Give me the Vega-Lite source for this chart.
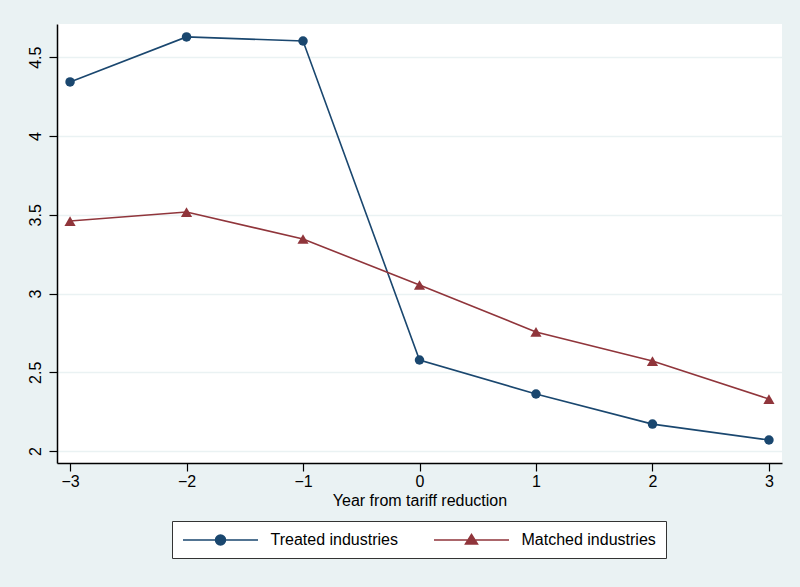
{
  "$schema": "https://vega.github.io/schema/vega-lite/v6.json",
  "width": 725,
  "height": 439,
  "autosize": {"type": "none"},
  "padding": {"left": 57, "top": 24, "right": 18, "bottom": 124},
  "background": "#eaf2f3",
  "config": {
    "view": {"fill": "white", "stroke": null},
    "font": "Liberation Sans",
    "axis": {
      "labelFont": "Liberation Sans",
      "titleFont": "Liberation Sans",
      "labelFontSize": 16,
      "titleFontSize": 16,
      "titleFontWeight": "normal",
      "labelColor": "#000",
      "titleColor": "#000",
      "domainColor": "#000",
      "domainWidth": 1.5,
      "tickColor": "#000",
      "tickWidth": 1.2,
      "tickSize": 8
    },
    "legend": {
      "title": null,
      "orient": "none",
      "legendX": 115,
      "legendY": 497,
      "direction": "horizontal",
      "padding": 10,
      "columnPadding": 33,
      "labelOffset": 70.5,
      "labelFontSize": 16,
      "labelFont": "Liberation Sans",
      "labelColor": "#000",
      "strokeColor": "#333",
      "fillColor": "white",
      "symbolSize": 256,
      "symbolStrokeWidth": 1.5
    }
  },
  "data": {
    "values": [
      {"year": -3, "value": 4.343, "series": "Treated industries"},
      {"year": -2, "value": 4.629, "series": "Treated industries"},
      {"year": -1, "value": 4.603, "series": "Treated industries"},
      {"year": 0, "value": 2.578, "series": "Treated industries"},
      {"year": 1, "value": 2.362, "series": "Treated industries"},
      {"year": 2, "value": 2.171, "series": "Treated industries"},
      {"year": 3, "value": 2.070, "series": "Treated industries"},
      {"year": -3, "value": 3.460, "series": "Matched industries"},
      {"year": -2, "value": 3.517, "series": "Matched industries"},
      {"year": -1, "value": 3.346, "series": "Matched industries"},
      {"year": 0, "value": 3.054, "series": "Matched industries"},
      {"year": 1, "value": 2.756, "series": "Matched industries"},
      {"year": 2, "value": 2.571, "series": "Matched industries"},
      {"year": 3, "value": 2.330, "series": "Matched industries"}
    ]
  },
  "encoding": {
    "x": {
      "field": "year",
      "type": "quantitative",
      "scale": {"domain": [-3.112, 3.112], "nice": false, "zero": false},
      "axis": {
        "title": "Year from tariff reduction",
        "values": [-3, -2, -1, 0, 1, 2, 3],
        "format": "d",
        "grid": false,
        "labelPadding": 2,
        "titlePadding": 3
      }
    },
    "y": {
      "field": "value",
      "type": "quantitative",
      "scale": {"domain": [1.924, 4.711], "nice": false, "zero": false},
      "axis": {
        "title": null,
        "values": [2, 2.5, 3, 3.5, 4, 4.5],
        "format": "~g",
        "labelAngle": -90,
        "labelAlign": "center",
        "labelBaseline": "bottom",
        "labelPadding": 6,
        "grid": true,
        "gridColor": "#eaf2f3",
        "gridWidth": 1.5
      }
    },
    "color": {
      "field": "series",
      "type": "nominal",
      "scale": {"domain": ["Treated industries", "Matched industries"], "range": ["#1a476f", "#90353b"]},
      "legend": {
        "encode": {
          "symbols": {
            "update": {
              "shape": {"signal": "datum.value === 'Treated industries' ? 'M-1,0H8.375M4.3125,0A0.625,0.625 0 1,1 3.0625,0A0.625,0.625 0 1,1 4.3125,0Z' : 'M-1,0H8.375M2.9375,0.5L3.6875,-0.6875L4.4375,0.5Z'"},
              "fill": {"signal": "datum.value === 'Treated industries' ? '#1a476f' : '#90353b'"},
              "stroke": {"signal": "datum.value === 'Treated industries' ? '#1a476f' : '#90353b'"},
              "strokeWidth": {"value": 1.5},
              "size": {"value": 256},
              "opacity": {"value": 1}
            }
          }
        }
      }
    }
  },
  "layer": [
    {
      "mark": {"type": "line", "strokeWidth": 1.6}
    },
    {
      "transform": [{"filter": "datum.series === 'Treated industries'"}],
      "mark": {"type": "point", "filled": true, "opacity": 1, "shape": "circle", "size": 90}
    },
    {
      "transform": [{"filter": "datum.series === 'Matched industries'"}],
      "mark": {"type": "point", "filled": true, "opacity": 1, "shape": "triangle-up", "size": 125}
    }
  ]
}
